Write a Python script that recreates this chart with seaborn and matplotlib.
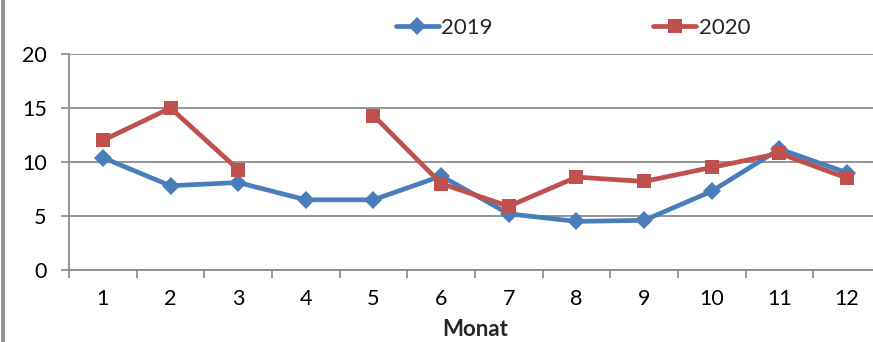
import matplotlib
matplotlib.use("Agg")
import matplotlib.pyplot as plt
import matplotlib.lines as mlines
import numpy as np
import pandas as pd
import seaborn as sns

months = list(range(1, 13))
values_2019 = [10.4, 7.8, 8.1, 6.5, 6.5, 8.7, 5.2, 4.5, 4.6, 7.3, 11.2, 9.0]
values_2020 = [12.0, 15.0, 9.3, np.nan, 14.3, 8.0, 5.9, 8.6, 8.2, 9.5, 10.8, 8.5]
series_names = ["2019", "2020"]
y_ticks = [0, 5, 10, 15, 20]
x_label = "Monat"

colors = {"2019": "#4A7EBB", "2020": "#C0504D"}
markers = {"2019": "D", "2020": "s"}
msizes = {"2019": 9, "2020": 10}

rows = []
for name, vals in zip(series_names, [values_2019, values_2020]):
    seg = 0
    for m, v in zip(months, vals):
        if v is None or (isinstance(v, float) and np.isnan(v)):
            seg += 1
            continue
        rows.append({"year": name, "month": m, "value": v, "seg": seg})
df = pd.DataFrame(rows)

sns.set_theme(style="white")
plt.rcParams["font.family"] = ["Lato", "DejaVu Sans"]

W, H = 873, 342
fig = plt.figure(figsize=(W / 100, H / 100), dpi=100)
ax = fig.add_axes([69 / W, (H - 270) / H, (881 - 69) / W, 216 / H])

for name in series_names:
    sub = df[df["year"] == name]
    sns.lineplot(data=sub, x="month", y="value", units="seg", estimator=None,
                 color=colors[name], marker=markers[name], markersize=msizes[name],
                 markeredgewidth=0, linewidth=3.4, ax=ax, legend=False, zorder=3)

ax.set_xlim(0.5, 12.5)
ax.set_ylim(0, 20)
ax.set_yticks(y_ticks)
ax.set_xticks(months)
ax.set_xticks(np.arange(0.5, 13, 1.0), minor=True)
ax.set_xticklabels([str(m) for m in months])
ax.tick_params(axis="x", which="major", length=0, pad=14, labelsize=15.5, colors="black")
ax.tick_params(axis="x", which="minor", length=6, width=1.2, color="#888888", bottom=True)
ax.tick_params(axis="y", which="major", length=6, width=1.2, color="#888888", pad=10,
               labelsize=15.5, left=True)
for lab in ax.get_yticklabels() + ax.get_xticklabels():
    lab.set_color("black")

ax.yaxis.grid(True, color="#8C8C8C", linewidth=1.3)
ax.xaxis.grid(False)
for s in ["top", "right"]:
    ax.spines[s].set_visible(False)
for s in ["left", "bottom"]:
    ax.spines[s].set_color("#8C8C8C")
    ax.spines[s].set_linewidth(1.3)

ax.set_xlabel(x_label, fontsize=16, fontweight="bold", labelpad=7)
ax.set_ylabel("")

handles = [mlines.Line2D([], [], color=colors[n], marker=markers[n], markersize=msizes[n],
                         markeredgewidth=0, linewidth=3.4, label=n) for n in series_names]
fig.legend(handles=handles, loc="center", bbox_to_anchor=(573 / W, 1 - 28 / H), ncol=2,
           frameon=False, fontsize=16, handlelength=1.95, handletextpad=0.12,
           columnspacing=7.2)

fig.add_artist(mlines.Line2D([3 / W, 3 / W], [0, 1], color="#8F8F8F", linewidth=2.8,
                             transform=fig.transFigure))

fig.savefig("out.png", dpi=100)
